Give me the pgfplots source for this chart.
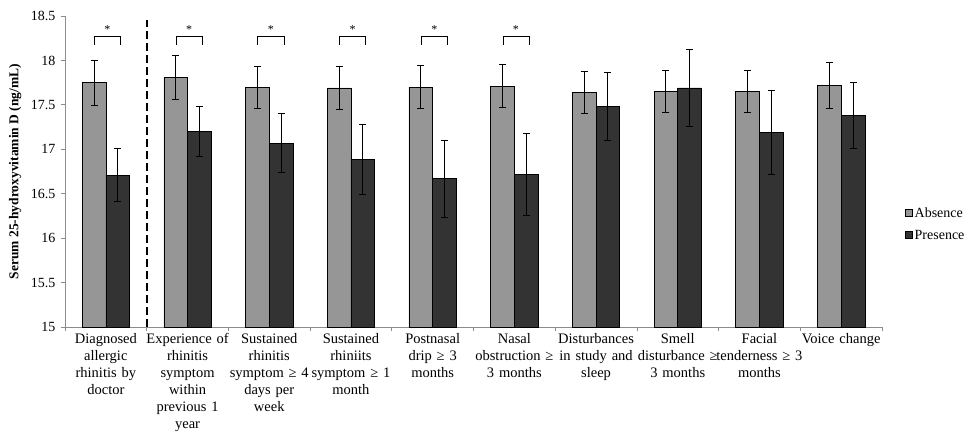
\documentclass[border=0pt]{standalone}
\usepackage{fontspec}
\setmainfont{Liberation Serif}
\usepackage{pgfplots}
\usepackage{pgfplotstable}
\pgfplotsset{compat=1.18}
\definecolor{absc}{RGB}{150,150,150}
\definecolor{presc}{RGB}{51,51,51}
\definecolor{axisgray}{RGB}{140,140,140}
\pgfplotstableread{
x a ae p pe
0 17.75 0.255 16.71 0.30
1 17.81 0.25 17.20 0.285
2 17.70 0.235 17.07 0.33
3 17.69 0.24 16.89 0.395
4 17.70 0.24 16.67 0.435
5 17.71 0.24 16.72 0.46
6 17.64 0.24 17.48 0.385
7 17.65 0.24 17.69 0.43
8 17.65 0.24 17.19 0.475
9 17.72 0.255 17.38 0.37
}\datatab
\begin{document}
\begin{tikzpicture}
\path[use as bounding box] (-65pt,-110pt) rectangle (902pt,327pt);
\begin{axis}[
  scale only axis, width=817pt, height=311pt,
  ybar=0pt, bar width=0.29,
  xmin=-0.5, xmax=9.5, ymin=15, ymax=18.5,
  axis lines=left,
  axis line style={-, draw=axisgray, line width=0.8pt},
  tick align=outside,
  major tick length=4pt,
  tick style={axisgray, line width=0.8pt},
  ytick={15,15.5,16,16.5,17,17.5,18,18.5},
  /pgf/number format/assume math mode=true,
  yticklabel style={font=\fontsize{14}{16}\selectfont, xshift=-2pt},
  xtick={-0.5,0.5,1.5,2.5,3.5,4.5,5.5,6.5,7.5,8.5,9.5},
  xticklabels={},
  extra x ticks={0,1,2,3,4,5,6,7,8,9},
  extra x tick labels={
    {Diagnosed\\allergic\\rhinitis by\\doctor},
    {Experience of\\rhinitis\\symptom\\within\\previous 1\\year},
    {Sustained\\rhinitis\\symptom ≥ 4\\days per\\week},
    {Sustained\\rhiniits\\symptom ≥ 1\\month},
    {Postnasal\\drip ≥ 3\\months},
    {Nasal\\obstruction ≥\\3 months},
    {Disturbances\\in study and\\sleep},
    {Smell\\disturbance ≥\\3 months},
    {Facial\\tenderness ≥ 3\\months},
    {Voice change}},
  extra x tick style={major tick length=0pt,
    tick label style={align=center, text width=100pt,
      font=\fontsize{14.5}{17}\selectfont, yshift=-3pt}},
  ylabel={Serum 25-hydroxyvitamin D (ng/mL)},
  ylabel style={font=\bfseries\fontsize{13.5}{15}\selectfont,
    at={(axis description cs:-0.061,0.5)}, anchor=center},
  legend style={at={(rel axis cs:1.028,0.331)}, anchor=west, draw=none,
    fill=none, inner sep=0pt, font=\fontsize{14}{16}\selectfont,
    row sep=7pt},
  legend cell align=left,
  error bars/error bar style={black, line width=0.9pt},
  error bars/error mark options={rotate=90, black, mark size=3.5pt, line width=0.9pt},
]
\addplot[fill=absc, draw=black, line width=0.6pt,
  legend image code/.code={\draw[fill=absc, draw=black, line width=0.6pt] (0pt,-3.5pt) rectangle (7pt,3.5pt);},
  error bars/.cd, y dir=both, y explicit]
  table[x=x, y=a, y error=ae] {\datatab};
\addlegendentry{Absence}
\addplot[fill=presc, draw=black, line width=0.6pt,
  legend image code/.code={\draw[fill=presc, draw=black, line width=0.6pt] (0pt,-3.5pt) rectangle (7pt,3.5pt);},
  error bars/.cd, y dir=both, y explicit]
  table[x=x, y=p, y error=pe] {\datatab};
\addlegendentry{Presence}
\draw[black, line width=2pt, dash pattern=on 8pt off 4pt] (axis cs:0.5,15) -- (axis cs:0.5,18.46);
\pgfplotsinvokeforeach{0,1,2,3,4,5}{
  \draw[black, line width=0.8pt] (axis cs:#1-0.14,18.174) -- (axis cs:#1-0.14,18.267) -- (axis cs:#1+0.18,18.267) -- (axis cs:#1+0.18,18.174);
  \node[font=\fontsize{12}{12}\selectfont] at (axis cs:#1+0.02,18.35) {*};
}
\end{axis}
\end{tikzpicture}
\end{document}
